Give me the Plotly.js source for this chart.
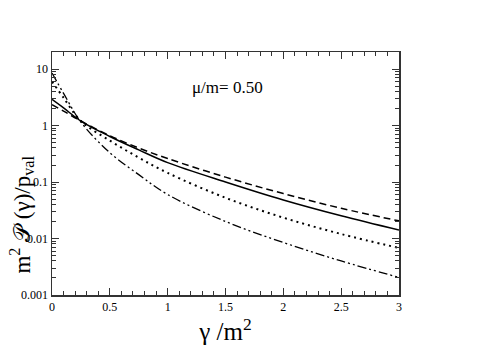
<!DOCTYPE html>
<html>
<head>
<meta charset="utf-8">
<script src="https://cdn.plot.ly/plotly-3.0.1.min.js"></script>
<style>html,body{margin:0;padding:0;background:#fff;}#chart{width:491px;height:347px;}</style>
</head>
<body>
<div id="chart"></div>
<script>
// gamma/m^2 sample positions
const xGamma = [0, 0.1, 0.25, 0.5, 0.75, 1, 1.5, 2, 2.5, 3];
// series
const solidVals   = [2.9, 2.05, 1.2, 0.64, 0.37, 0.22, 0.1, 0.048, 0.0252, 0.0141];
const dashedVals  = [2.33, 1.8, 1.2, 0.66, 0.40, 0.26, 0.122, 0.0624, 0.0343, 0.0205];
const dottedVals  = [6.0, 3.1, 1.2, 0.54, 0.27, 0.145, 0.0525, 0.0234, 0.012, 0.0068];
const dashDotVals = [8.5, 3.7, 1.15, 0.33, 0.135, 0.06, 0.02, 0.0085, 0.004, 0.00205];
const yTickVals = [0.001, 0.01, 0.1, 1, 10];
const yTickText = ['0.001', '0.01', '0.1', '1', '10'];
const xTickVals = [0, 0.5, 1, 1.5, 2, 2.5, 3];
const xTickText = ['0', '0.5', '1', '1.5', '2', '2.5', '3'];

const mk = (y, dash, w) => ({
  x: xGamma, y: y, type: 'scatter', mode: 'lines',
  line: {color: '#000', width: w, dash: dash, shape: 'spline', smoothing: 1},
  showlegend: false, hoverinfo: 'skip'
});
const data = [
  mk(solidVals, 'solid', 1.5),
  mk(dashedVals, '7px,4px', 1.5),
  mk(dottedVals, '2px,4px', 2),
  mk(dashDotVals, '9px,3px,2px,3px,2px,3px', 1.3)
];
const serif = 'Liberation Serif';
const layout = {
  width: 491, height: 347,
  margin: {l: 52, r: 92, t: 52, b: 52},
  paper_bgcolor: '#fff', plot_bgcolor: '#fff',
  showlegend: false,
  font: {family: serif, color: '#000'},
  xaxis: {
    range: [0, 3], tickvals: xTickVals, ticktext: xTickText,
    ticks: 'inside', ticklen: 7, tickwidth: 1, tickcolor: '#333',
    minor: {dtick: 0.1, ticks: 'inside', ticklen: 4, tickcolor: '#333', tickwidth: 1},
    showline: true, linecolor: '#333', linewidth: 1.5, mirror: 'allticks',
    showgrid: false, zeroline: false,
    tickfont: {family: serif, size: 12, color: '#000'},
    title: {text: 'γ /m<sup>2</sup>', font: {family: serif, size: 25, color: '#000'}, standoff: 6}
  },
  yaxis: {
    type: 'log', range: [-3, Math.log10(20)],
    tickvals: yTickVals, ticktext: yTickText,
    ticks: 'inside', ticklen: 7, tickwidth: 1, tickcolor: '#333',
    minor: {dtick: 'D1', ticks: 'inside', ticklen: 4, tickcolor: '#333', tickwidth: 1},
    showline: true, linecolor: '#333', linewidth: 1.5, mirror: 'allticks',
    showgrid: false, zeroline: false,
    tickfont: {family: serif, size: 12, color: '#000'}
  },
  annotations: [{
    text: 'μ/m= 0.50', xref: 'x', yref: 'y', x: 1.19, y: 0.67,
    xanchor: 'left', yanchor: 'middle', showarrow: false,
    font: {family: serif, size: 17, color: '#000'}
  }, {
    text: 'm<sup>2</sup> 𝒫 (γ)/p<sub>val</sub>', xref: 'paper', yref: 'paper',
    x: -0.087, y: 0.33, xanchor: 'center', yanchor: 'middle', textangle: -90,
    showarrow: false, font: {family: serif, size: 23, color: '#000'}
  }]
};
Plotly.newPlot('chart', data, layout, {displayModeBar: false, staticPlot: true});
</script>
</body>
</html>
